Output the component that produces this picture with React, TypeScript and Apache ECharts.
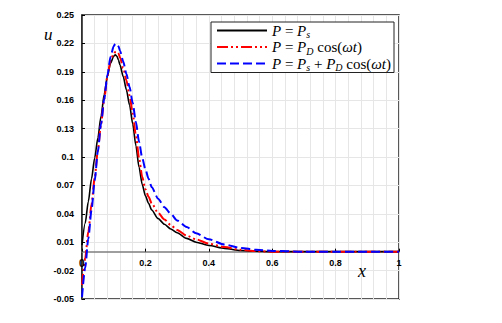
import React, { useEffect, useRef } from "react";
import * as echarts from "echarts";

const xs = [0, 0.01, 0.02, 0.03, 0.04, 0.05, 0.06, 0.07, 0.08, 0.09, 0.1, 0.105, 0.11, 0.115, 0.12, 0.13, 0.14, 0.15, 0.16, 0.17, 0.18, 0.19, 0.2, 0.21, 0.22, 0.24, 0.26, 0.28, 0.3, 0.33, 0.36, 0.4, 0.45, 0.5, 0.55, 0.6, 0.7, 0.8, 0.9, 1.0];

const uStatic = [0.007, 0.03, 0.053, 0.077, 0.099, 0.12, 0.143, 0.166, 0.185, 0.199, 0.2065, 0.208, 0.2065, 0.2025, 0.197, 0.185, 0.171, 0.155, 0.135, 0.112, 0.089, 0.071, 0.059, 0.051, 0.044, 0.035, 0.029, 0.024, 0.02, 0.014, 0.01, 0.0065, 0.0035, 0.0012, 0.0004, 0, 0, 0, 0, 0];

const uDynamic = [-0.035, -0.007, 0.021, 0.05, 0.078, 0.107, 0.135, 0.161, 0.185, 0.202, 0.209, 0.211, 0.2115, 0.2095, 0.205, 0.194, 0.181, 0.165, 0.146, 0.123, 0.099, 0.079, 0.066, 0.058, 0.051, 0.041, 0.034, 0.028, 0.023, 0.017, 0.013, 0.0085, 0.0048, 0.002, 0.0006, 0, 0, 0, 0, 0];

const uCombined = [-0.048, -0.017, 0.014, 0.044, 0.075, 0.106, 0.135, 0.161, 0.186, 0.206, 0.217, 0.2195, 0.2195, 0.217, 0.212, 0.201, 0.188, 0.174, 0.157, 0.137, 0.116, 0.099, 0.087, 0.077, 0.068, 0.056, 0.047, 0.04, 0.033, 0.026, 0.0195, 0.013, 0.0075, 0.004, 0.002, 0.0008, 0, 0, 0, 0];

const xTickLabels = [0.2, 0.4, 0.6, 0.8, 1];
const xOriginLabel = "0";
const yTickLabels = [-0.05, -0.02, 0.01, 0.04, 0.07, 0.1, 0.13, 0.16, 0.19, 0.22, 0.25];

const seriesNames = ["P = Ps", "P = PD cos(ωt)", "P = Ps + PD cos(ωt)"];
const legendRich = [
  "{i|P}{r| = }{i|P}{sub|s}",
  "{i|P}{r| = }{i|P}{sub|D}{r| cos(}{i|ωt}{r|)}",
  "{i|P}{r| = }{i|P}{sub|s}{r| + }{i|P}{sub|D}{r| cos(}{i|ωt}{r|)}",
];

const toPairs = (ys: number[]) => xs.map((x, i) => [x, ys[i]]);

export default function App() {
  const ref = useRef<HTMLDivElement>(null);
  useEffect(() => {
    if (!ref.current) return;
    const chart = echarts.init(ref.current, null, { renderer: "svg" });
    const serif = "'Liberation Serif', 'DejaVu Serif', serif";
    const labelFont = {
      fontFamily: "'Liberation Sans', Arial, sans-serif",
      fontWeight: "bold" as const,
      fontSize: 9,
      color: "#000",
    };
    const gridTop = 15;
    const gridBottom = 24;
    const gridLeft = 82;
    const plotH = 323 - gridTop - gridBottom;
    const yMin = -0.05;
    const yMax = 0.25;
    const zeroOffset = (plotH * (0 - yMin)) / (yMax - yMin);
    const zeroY = 323 - gridBottom - zeroOffset;
    const lineBase = {
      type: "line",
      symbol: "none",
      showSymbol: false,
      smooth: 0.25,
      smoothMonotone: "x",
    };
    chart.setOption({
      animation: false,
      backgroundColor: "#fff",
      grid: {
        left: gridLeft,
        right: 103,
        top: gridTop,
        bottom: gridBottom,
        show: true,
        borderColor: "#222",
        borderWidth: 1.5,
        backgroundColor: "transparent",
      },
      xAxis: {
        type: "value",
        min: 0,
        max: 1,
        interval: 0.2,
        position: "bottom",
        offset: -zeroOffset,
        axisLine: { show: true, onZero: false, lineStyle: { color: "#7f7f7f", width: 1.5 } },
        axisTick: { show: true, inside: true, length: 3, lineStyle: { color: "#000" } },
        axisLabel: {
          ...labelFont,
          margin: 7,
          customValues: xTickLabels,
          showMaxLabel: true,
          hideOverlap: false,
        },
        splitLine: { show: true, lineStyle: { color: "#e6e6e6", width: 1 } },
        minorTick: { show: false, splitNumber: 5 },
        minorSplitLine: { show: true, lineStyle: { color: "#e6e6e6", width: 1 } },
      },
      yAxis: {
        type: "value",
        min: yMin,
        max: yMax,
        interval: 0.01,
        axisLine: { show: true, onZero: false, lineStyle: { color: "#222", width: 1.5 } },
        axisTick: {
          show: true,
          inside: true,
          length: 3,
          customValues: yTickLabels,
          lineStyle: { color: "#000" },
        },
        axisLabel: { ...labelFont, margin: 8, customValues: yTickLabels },
        splitLine: { show: true, lineStyle: { color: "#e6e6e6", width: 1 } },
      },
      legend: {
        orient: "vertical",
        left: 211,
        top: 22,
        padding: [1, 3, 0, 5],
        itemWidth: 50,
        itemHeight: 14,
        itemGap: 0,
        backgroundColor: "#fff",
        borderColor: "#222",
        borderWidth: 1,
        borderRadius: 0,
        data: seriesNames,
        itemStyle: { color: "transparent", borderColor: "transparent", borderWidth: 0, opacity: 0 },
        formatter: (name: string) => legendRich[seriesNames.indexOf(name)],
        textStyle: {
          color: "#000",
          rich: {
            i: { fontFamily: serif, fontStyle: "italic", fontSize: 15, lineHeight: 18, color: "#000" },
            r: { fontFamily: serif, fontSize: 15, lineHeight: 18, color: "#000" },
            sub: {
              fontFamily: serif,
              fontStyle: "italic",
              fontSize: 10,
              lineHeight: 10,
              verticalAlign: "bottom",
              color: "#000",
            },
          },
        },
      },
      graphic: {
        elements: [
          {
            type: "text",
            left: 44,
            top: 26,
            z: 100,
            style: { text: "u", font: "italic 17px 'Liberation Serif', serif", fill: "#000" },
          },
          {
            type: "text",
            left: 358,
            top: 262,
            z: 100,
            style: { text: "x", font: "italic 18px 'Liberation Serif', serif", fill: "#000" },
          },
          {
            type: "text",
            left: gridLeft - 3,
            top: zeroY + 7,
            z: 100,
            style: {
              text: xOriginLabel,
              font: "bold 10px 'Liberation Sans', Arial, sans-serif",
              fill: "#000",
            },
          },
        ],
      },
      series: [
        {
          ...lineBase,
          name: seriesNames[0],
          data: toPairs(uStatic),
          lineStyle: { color: "#000", width: 1.6, type: "solid" },
          itemStyle: { color: "#000" },
          z: 3,
        },
        {
          ...lineBase,
          name: seriesNames[1],
          data: toPairs(uDynamic),
          lineStyle: { color: "#ff0000", width: 2, type: [11, 3, 2, 3, 2, 3] },
          itemStyle: { color: "#ff0000" },
          z: 4,
        },
        {
          ...lineBase,
          name: seriesNames[2],
          data: toPairs(uCombined),
          lineStyle: { color: "#0000ff", width: 2, type: [9, 4] },
          itemStyle: { color: "#0000ff" },
          z: 5,
        },
      ],
    });
    return () => chart.dispose();
  }, []);
  return (
    <div
      ref={ref}
      style={{ position: "fixed", left: 0, top: 0, width: 502, height: 323 }}
    />
  );
}
